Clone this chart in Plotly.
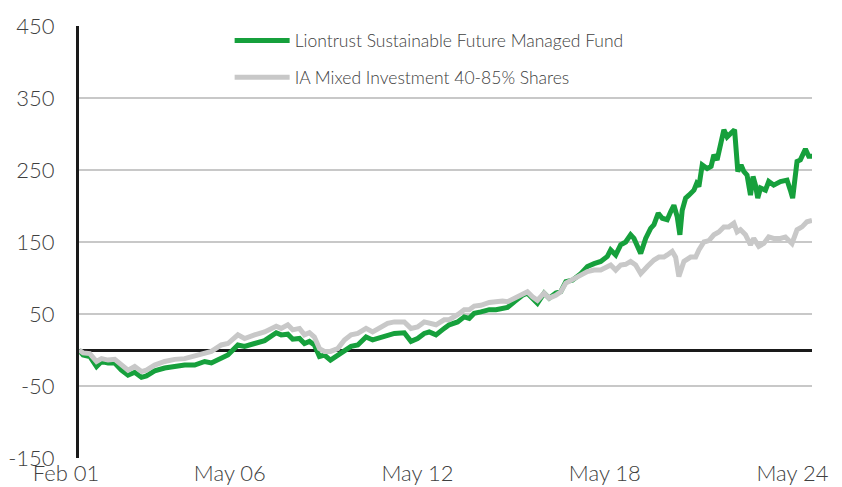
import plotly.graph_objects as go

# ---- data (cumulative % return) ----
dates = ["2001-02-01","2001-03-21","2001-06-07","2001-08-25","2001-10-22","2002-01-07","2002-03-26",
         "2002-06-12","2002-08-28","2002-11-14","2003-02-01","2003-03-31","2003-07-05","2003-10-30",
         "2004-02-24","2004-06-20","2004-10-15","2005-02-09","2005-04-28","2005-08-22","2005-11-07",
         "2006-03-04","2006-05-21","2006-09-15","2007-01-10","2007-05-26","2007-07-23","2007-10-08",
         "2007-12-05","2008-02-22","2008-04-20","2008-06-17","2008-08-14","2008-10-12","2008-12-09",
         "2009-02-18","2009-05-14","2009-07-31","2009-10-17","2010-01-03","2010-04-10","2010-06-26",
         "2010-10-02","2010-12-18","2011-03-07","2011-07-01","2011-09-17","2011-12-03","2012-02-19",
         "2012-04-17","2012-07-05","2012-10-09","2012-12-07","2013-03-15","2013-05-31","2013-07-29",
         "2013-09-25","2013-12-12","2014-03-20","2014-06-06","2014-08-22","2014-10-19","2015-01-06",
         "2015-04-12","2015-06-09","2015-08-07","2015-10-04","2015-12-21","2016-02-18","2016-05-06",
         "2016-07-03","2016-08-31","2016-11-15","2017-02-22","2017-05-10","2017-07-27","2017-10-13",
         "2017-12-29","2018-02-06","2018-04-06","2018-06-03"]
fund = [0, -7, -9, -23, -16, -18, -18,
        -28, -35, -31, -38, -36, -29, -25,
        -23, -21, -21, -16, -18, -12, -7,
        7, 5, 9, 13, 24, 21, 22,
        15, 16, 9, 12, 7, -9, -7,
        -14, -7, 0, 5, 7, 18, 14,
        18, 21, 23, 24, 12, 16, 23,
        25, 21, 30, 35, 39, 46, 44,
        51, 53, 56, 56, 58, 59, 67,
        76, 79, 72, 65, 79, 72, 79,
        81, 95, 97, 106, 116, 120, 123,
        130, 139, 132, 146]
sector = [0, -4, -5, -16, -12, -14, -13,
          -21, -28, -23, -30, -28, -21, -16,
          -13, -12, -8, -5, -2, 7, 9,
          21, 16, 21, 25, 33, 30, 35,
          28, 30, 21, 24, 18, 2, -2,
          -2, 2, 14, 21, 23, 30, 25,
          32, 37, 39, 39, 30, 32, 39,
          37, 35, 42, 42, 49, 56, 56,
          61, 62, 66, 67, 68, 67, 72,
          78, 81, 74, 69, 79, 72, 76,
          81, 93, 97, 104, 109, 111, 111,
          116, 118, 111, 118]

fund_dates_late = ["2018-07-31","2018-09-27","2018-11-05","2018-12-07","2019-01-23","2019-03-22",
                   "2019-05-19","2019-06-27","2019-08-16","2019-10-02","2019-11-29","2020-01-08",
                   "2020-02-15","2020-03-25","2020-04-25","2020-05-22","2020-07-01","2020-08-08",
                   "2020-10-06","2020-11-06","2020-12-03","2021-01-11","2021-03-10","2021-04-25",
                   "2021-05-27","2021-07-04","2021-08-13","2021-09-21","2021-10-29","2021-12-08",
                   "2022-01-24","2022-03-03","2022-04-10","2022-05-12","2022-06-19","2022-07-29",
                   "2022-08-28","2022-09-25","2022-10-22","2022-11-23","2023-01-20","2023-02-27",
                   "2023-04-26","2023-07-14","2023-09-29","2023-11-07","2023-12-04","2024-01-24",
                   "2024-03-03","2024-05-01","2024-06-09","2024-07-17"]
fund_late = [150, 160, 155, 146, 134, 155,
             169, 174, 190, 183, 181, 192,
             201, 185, 160, 194, 211, 215,
             222, 231, 227, 257, 252, 255,
             271, 264, 287, 306, 296, 301,
             306, 248, 257, 248, 243, 215,
             241, 229, 211, 225, 222, 234,
             229, 234, 236, 222, 211, 262,
             264, 279, 269, 269]

sector_dates_late = ["2018-07-31","2018-09-27","2018-11-25","2019-01-23","2019-04-10","2019-06-27",
                     "2019-08-24","2019-10-21","2019-11-29","2020-01-26","2020-03-06","2020-04-13",
                     "2020-06-11","2020-08-28","2020-10-26","2020-12-03","2021-01-31","2021-03-30",
                     "2021-05-27","2021-07-24","2021-09-21","2021-11-18","2022-01-16","2022-02-23",
                     "2022-04-03","2022-06-01","2022-07-29","2022-09-05","2022-11-03","2023-01-01",
                     "2023-02-27","2023-04-26","2023-07-14","2023-09-10","2023-11-26","2024-01-24",
                     "2024-03-22","2024-05-19","2024-07-17"]
sector_late = [119, 123, 118, 106, 116, 125,
               129, 129, 132, 137, 129, 102,
               123, 129, 129, 139, 150, 152,
               160, 164, 171, 171, 176, 164,
               167, 160, 146, 155, 144, 148,
               157, 155, 155, 157, 148, 167,
               171, 178, 180]

names = ["Liontrust Sustainable Future Managed Fund", "IA Mixed Investment 40-85% Shares"]
tick_dates = ["2001-02-01", "2006-05-01", "2012-05-01", "2018-05-01", "2024-05-01"]
tick_labels = ["Feb 01", "May 06", "May 12", "May 18", "May 24"]
y_ticks = [-150, -50, 50, 150, 250, 350, 450]
y_labels = ["-150", "-50", "50", "150", "250", "350", "450"]

GREEN = "#16a03c"
GREY = "#c8c8c8"
TEXT = "#404040"
FONT = "Lato, 'DejaVu Sans', sans-serif"

fig = go.Figure()
fig.add_trace(go.Scatter(x=dates + fund_dates_late, y=fund + fund_late, mode="lines",
                         name=names[0], line=dict(color=GREEN, width=5), legendgroup="a"))
fig.add_trace(go.Scatter(x=dates + sector_dates_late, y=sector + sector_late, mode="lines",
                         name=names[1], line=dict(color=GREY, width=5), legendgroup="b"))

# the page body has an 8px margin, so the figure is sized to fit the 842x487 window
fig.update_layout(
    width=834, height=479,
    margin=dict(l=71, r=30, t=18, b=29),
    plot_bgcolor="white", paper_bgcolor="white",
    font=dict(family=FONT, color=TEXT, size=19),
    showlegend=True,
    legend=dict(x=0.2055, y=1.008, xanchor="left", yanchor="top", bgcolor="rgba(0,0,0,0)",
                font=dict(size=17.5, color=TEXT, weight=300), itemwidth=55, tracegroupgap=11,
                traceorder="grouped"),
)
fig.update_xaxes(
    type="date", range=["2001-02-01", "2024-07-17"], automargin=False,
    tickvals=tick_dates, ticktext=tick_labels, ticklabelshift=-13,
    showgrid=False, showline=False, zeroline=False, ticks="",
    tickfont=dict(size=22, color=TEXT, weight=300),
)
fig.update_yaxes(
    range=[-150, 450], tickvals=y_ticks, ticktext=y_labels, automargin=False,
    showgrid=True, gridcolor=GREY, gridwidth=2,
    zeroline=True, zerolinecolor="#1a1a1a", zerolinewidth=2.5,
    showline=True, linecolor="#1a1a1a", linewidth=3,
    ticks="outside", ticklen=17, tickcolor="rgba(0,0,0,0)",
    tickfont=dict(size=22, color=TEXT, weight=300),
)

fig.write_html("out.html")
